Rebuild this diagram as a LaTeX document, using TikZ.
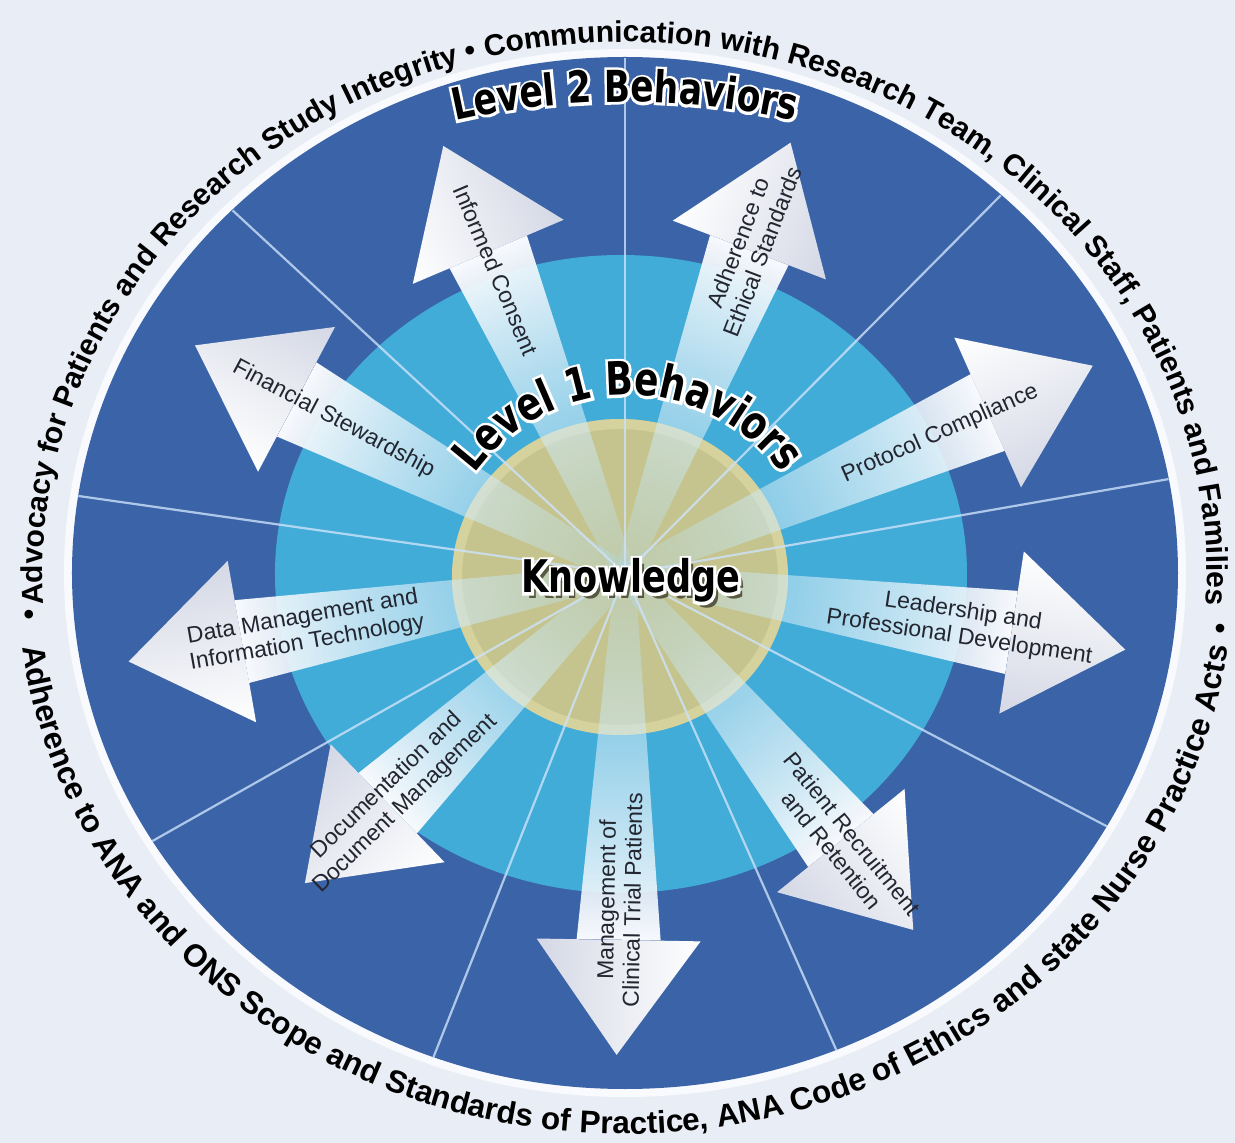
\documentclass[tikz,border=0pt]{standalone}
\usepackage{fontspec}
\setmainfont{Liberation Sans}
\newfontfamily\heavyfont[FakeStretch=0.78]{DejaVu Sans}
\newfontfamily\halofont[FakeStretch=0.78,FakeBold=12]{DejaVu Sans}
\usetikzlibrary{decorations.text,fadings,calc}

\definecolor{bgcol}{RGB}{233,237,245}
\definecolor{rimcol}{RGB}{248,250,253}
\definecolor{darkring}{RGB}{59,100,168}
\definecolor{lightring}{RGB}{66,172,216}
\definecolor{khaki}{RGB}{197,196,142}
\definecolor{khakirim}{RGB}{228,222,172}
\definecolor{spokecol}{RGB}{205,226,250}
\definecolor{labelcol}{RGB}{35,38,48}
\definecolor{headgrey}{RGB}{212,216,229}
\definecolor{shaftcyan}{RGB}{178,222,240}

\newcommand\topringfont{\bfseries\fontsize{30}{30}\selectfont}
\newcommand\botringfont{\bfseries\fontsize{31.5}{31.5}\selectfont}
\newcommand\leveltwofont{\heavyfont\bfseries\fontsize{44}{44}\selectfont}
\newcommand\leveltwohalo{\halofont\bfseries\fontsize{44}{44}\selectfont}
\newcommand\levelonefont{\heavyfont\bfseries\fontsize{46}{46}\selectfont}
\newcommand\levelonehalo{\halofont\bfseries\fontsize{46}{46}\selectfont}

\tikzfading[name=shaftfade,left color=transparent!75,right color=transparent!0]

\tikzstyle{spokeline}=[spokecol,line width=2.2pt,opacity=0.8]
\tikzstyle{headfill}=[top color=white,bottom color=headgrey]
\tikzstyle{shaftfill}=[left color=shaftcyan,right color=rimcol,path fading=shaftfade]
\tikzstyle{arrowlabel}=[font=\fontsize{23}{26}\selectfont,text=labelcol,align=center,inner sep=0pt]
\tikzstyle{ringtext}=[decorate,decoration={text along path,text align=center,text color=black}]
\tikzstyle{levelpath}=[decorate,decoration={text along path,text align=center}]
\tikzstyle{knowtext}=[font=\heavyfont\bfseries\fontsize{45}{45}\selectfont,inner sep=0pt,anchor=base]
\tikzstyle{knowhalo}=[font=\halofont\bfseries\fontsize{45}{45}\selectfont,inner sep=0pt,anchor=base]
\tikzstyle{ringdot}=[font=\topringfont,inner sep=0pt]

\begin{document}
\begin{tikzpicture}[x=1pt,y=1pt]
    \useasboundingbox[fill=bgcol] (-625,-569) rectangle (610,574);
    \coordinate (C) at (0,0);
    \coordinate (L2) at (0,-296);
    \coordinate (L1) at (3,-11);

    \fill[rimcol] (0,1) ellipse [x radius=561,y radius=524];
    \fill[darkring] (0,1) ellipse [x radius=553,y radius=516];
    \fill[lightring] (-4,0) ellipse [x radius=346,y radius=319];
    \fill[khaki] (-5,-3) ellipse [x radius=168,y radius=158];
    \draw[khakirim,line width=10pt,opacity=0.55] (-5,-3) ellipse [x radius=163,y radius=153];

    \foreach \ang/\len/\lab/\flip/\pos [count=\i] in {
        113/465/{Informed Consent}/180/330,
        69/462/{Adherence to\\Ethical Standards}/0/350,
        24/512/{Protocol Compliance}/0/345,
        -8.6/506/{Leadership and\\Professional Development}/0/340,
        -51/458/{Patient Recruitment\\and Retention}/0/345,
        -91/481/{Management of\\Clinical Trial Patients}/180/326,
        -136/445/{Documentation and\\Document Management}/180/318,
        190/504/{Data Management and\\Information Technology}/180/325,
        152/487/{Financial Stewardship}/180/330}
    {
    \begin{scope}[transform canvas={rotate=\ang}]
        \path[shaftfill] (0,-10) -- (\len-115,-42) -- (\len-115,42) -- (0,10) -- cycle;
        \path[headfill] (\len-115,-82) -- (\len,0) -- (\len-115,82) -- cycle;
        \node[arrowlabel,rotate=\flip] (lab\i) at (\pos,0) {\lab};
    \end{scope}
    }

    \foreach \a in {90,47.2,10.6,-29.3,-67.5,-110.3,-148.8,171.3,135.2}
        \draw[spokeline] (C) -- (\a:553 and 516);

    \path[ringtext,decoration={text={|\topringfont|Advocacy for Patients and Research Study Integrity • Communication with Research Team, Clinical Staff, Patients and Families}}]
        (186:582 and 532) arc [start angle=186,end angle=-6,x radius=582,y radius=532];
    \path[ringtext,decoration={text={|\botringfont|Adherence to ANA and ONS Scope and Standards of Practice, ANA Code of Ethics and state Nurse Practice Acts}}]
        (185:608 and 560) arc [start angle=185,end angle=355,x radius=608,y radius=560];
    \node[ringdot] (dotleft) at (-596,-43) {•};
    \node[ringdot] (dotright) at (595,-57) {•};

    \path[levelpath,shift={(4,-5)},decoration={text color=darkring!50!black,text={|\leveltwofont|Level 2 Behaviors}}]
        ($(L2)+(110:768)$) arc [start angle=110,end angle=70,radius=768];
    \path[levelpath,decoration={text color=white,text={|\leveltwohalo|Level 2 Behaviors}}]
        ($(L2)+(110:768)$) arc [start angle=110,end angle=70,radius=768];
    \path[levelpath,decoration={text color=black,text={|\leveltwofont|Level 2 Behaviors}}]
        ($(L2)+(110:768)$) arc [start angle=110,end angle=70,radius=768];

    \path[levelpath,shift={(4,-5)},decoration={text color=lightring!50!black,text={|\levelonefont|Level 1 Behaviors}}]
        ($(L1)+(168:190)$) arc [start angle=168,end angle=12,radius=190];
    \path[levelpath,decoration={text color=white,text={|\levelonehalo|Level 1 Behaviors}}]
        ($(L1)+(168:190)$) arc [start angle=168,end angle=12,radius=190];
    \path[levelpath,decoration={text color=black,text={|\levelonefont|Level 1 Behaviors}}]
        ($(L1)+(168:190)$) arc [start angle=168,end angle=12,radius=190];

    \node[knowtext,text=khaki!45!black] (knowshadow) at (11,-25) {Knowledge};
    \node[knowhalo,text=white] (knowwhite) at (6,-19) {Knowledge};
    \node[knowtext,text=black] (know) at (6,-19) {Knowledge};
\end{tikzpicture}
\end{document}
